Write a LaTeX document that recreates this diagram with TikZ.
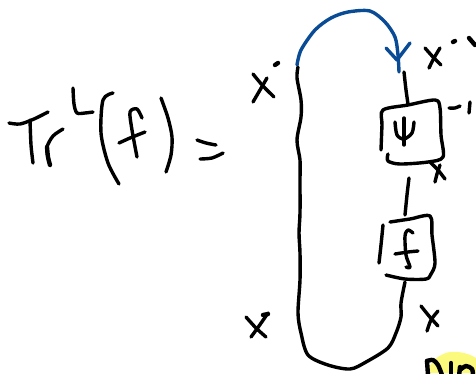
\documentclass[tikz,border=0pt]{standalone}
\definecolor{inkblue}{RGB}{10,75,150}
\definecolor{hl}{RGB}{252,250,125}
\tikzset{
 ink/.style={line width=3.4pt,line cap=round,line join=round,black},
 thick ink/.style={ink,line width=4.4pt},
 blueink/.style={ink,inkblue},
}
\newcommand{\stroke}[2][ink]{\draw[#1] plot[smooth,tension=0.5] coordinates {#2};}
\begin{document}
\begin{tikzpicture}[x=1pt,y=-1pt]
\useasboundingbox (0,0) rectangle (476,373);
% highlight
\fill[hl] (427,373) .. controls (430,360) and (442,353) .. (450,352) .. controls (460,351) and (470,354) .. (476,358) -- (476,373) -- cycle;
\stroke[thick ink]{(427,361) (433,360) (438,365) (442,375)}
\stroke[thick ink]{(427,361) (428,375)}
\stroke[thick ink]{(451,363) (451,376)}
\stroke[thick ink]{(459,376) (460,367)}
\stroke[thick ink]{(460,370) (466,366) (472,369) (473,376)}
% Tr^L(f) =
\stroke{(9,123) (20,124) (34,119) (48,112)}
\stroke{(30,120) (31,145) (33,163)}
\stroke{(63,129) (53,136) (47,147) (48,157)}
\stroke[thick ink]{(47,147) (48,157) (50,165)}
\stroke{(73,88) (74,104) (77,113) (85,113) (93,112)}
\stroke{(113,93) (103,100) (101,133) (108,163) (119,184)}
\stroke{(119,143) (130,138) (145,132)}
\stroke{(142,118) (137,109) (130,112) (132,130) (137,157)}
\stroke{(161,98) (168,118) (172,137) (171,155) (166,172)}
\stroke{(197,140) (206,143) (216,145)}
\stroke{(200,159) (212,158) (223,153)}
% left x with dot
\stroke{(253,74) (263,86) (274,97)}
\stroke{(267,78) (260,90) (253,102)}
\stroke[thick ink]{(275,65) (278,63)}
% right x'' top
\stroke{(425,48) (433,57) (441,65)}
\stroke{(440,48) (434,58) (429,68)}
\stroke[thick ink]{(453,42) (455,41)}
\stroke[thick ink]{(469,38) (475,45)}
% loop
\stroke{(298,67) (297,78) (301,100) (301,117) (297,140) (300,160) (300,180) (300,213) (299,233) (300,253) (300,280) (298,313) (301,333) (308,355) (328,365) (350,369) (366,362) (388,348) (396,333) (401,317) (401,303) (405,282)}
% blue
\stroke[blueink]{(297,65) (301,50) (315,30) (331,18) (348,12) (370,11) (385,22) (395,37) (398,55) (399,72)}
\draw[blueink] (386,48) -- (397,60) -- (410,43);
% psi box
\stroke{(404,72) (406,90) (408,104)}
\stroke{(381,150) (382,125) (383,110) (408,105) (435,100) (440,108) (441,135) (443,157) (428,162) (400,164) (388,161) (388,154)}
\stroke{(395,122) (397,135) (404,139) (412,133) (414,122)}
\stroke{(404,118) (404,145)}
\stroke{(449,108) (455,108) (460,106)}
\stroke{(470,102) (469,113)}
% x under psi box
\stroke{(430,162) (438,170) (445,179)}
\stroke{(440,165) (437,174) (435,182)}
% link
\stroke{(409,178) (407,195) (405,215)}
% f box
\stroke{(383,225) (381,245) (379,263)}
\stroke{(390,222) (410,219) (430,216) (432,235) (435,263) (431,274) (426,279) (405,279) (386,275)}
\stroke{(413,233) (408,230) (405,236) (406,255) (410,267) (406,267)}
\stroke{(395,254) (408,252) (418,251)}
% x right bottom
\stroke{(421,306) (429,316) (438,326)}
\stroke{(438,311) (431,320) (427,331)}
% x left bottom
\stroke{(246,317) (256,328) (266,337)}
\stroke{(268,313) (259,326) (251,337)}
\stroke[thick ink]{(263,315) (268,314)}
\end{tikzpicture}
\end{document}
